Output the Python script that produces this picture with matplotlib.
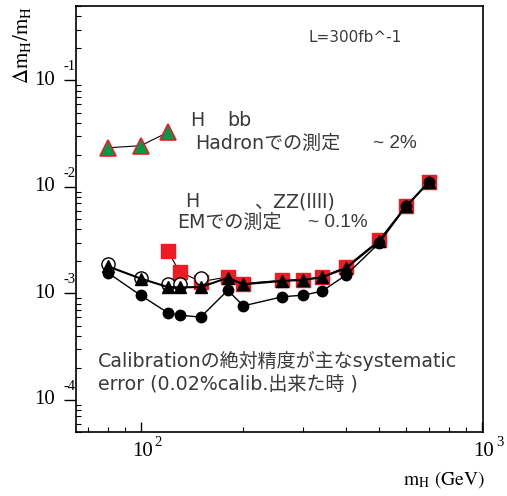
import matplotlib.pyplot as plt
from matplotlib.ticker import LogLocator, NullFormatter
from matplotlib.transforms import blended_transform_factory, ScaledTranslation

plt.rcParams['mathtext.fontset'] = 'stix'
plt.rcParams['font.family'] = ['DejaVu Sans', 'Noto Sans CJK JP']

# Higgs mass points (GeV) and relative mass precision dm/m
m_bb = [80, 100, 120]
dm_bb = [0.0233, 0.0244, 0.0325]

m_open = [80, 100, 120, 130, 150]
dm_open = [1.87e-3, 1.40e-3, 1.24e-3, 1.24e-3, 1.41e-3]

m_tri = [80, 100, 120, 130, 150, 180, 200, 260, 300, 340, 400, 500, 600, 700]
dm_tri = [1.80e-3, 1.38e-3, 1.15e-3, 1.14e-3, 1.15e-3, 1.40e-3, 1.22e-3,
          1.31e-3, 1.34e-3, 1.42e-3, 1.73e-3, 3.10e-3, 6.60e-3, 1.11e-2]

m_circ = [80, 100, 120, 130, 150, 180, 200, 260, 300, 340, 400, 500, 600, 700]
dm_circ = [1.57e-3, 9.6e-4, 6.6e-4, 6.25e-4, 6.0e-4, 1.07e-3, 7.65e-4,
           9.3e-4, 9.65e-4, 1.05e-3, 1.49e-3, 2.97e-3, 6.60e-3, 1.12e-2]

m_sq = [120, 130, 150, 180, 200, 260, 300, 340, 400, 500, 600, 700]
dm_sq = [2.51e-3, 1.60e-3, 1.29e-3, 1.43e-3, 1.24e-3, 1.33e-3, 1.35e-3,
         1.43e-3, 1.78e-3, 3.16e-3, 6.64e-3, 1.12e-2]

x_decades = [2, 3]
y_decades = [-1, -2, -3, -4]

RED = '#ed1c24'
GREEN = '#009a48'
TXT = '#3a3a3a'
SERIF = 'Liberation Serif'

fig = plt.figure(figsize=(5.07, 4.96), dpi=100)
ax = fig.add_axes([0.1493, 0.129, 0.8040, 0.8589])

ax.plot(m_bb, dm_bb, color='black', lw=0.8, marker='^', ms=11,
        mfc=GREEN, mec=RED, mew=1.2, zorder=3)
ax.plot(m_sq, dm_sq, color='black', lw=0.8, marker='s', ms=10,
        mfc=RED, mec=RED, zorder=2)
ax.plot(m_open, dm_open, ls='none', marker='o', ms=9.5,
        mfc='white', mec='black', mew=1.0, zorder=3)
ax.plot(m_circ, dm_circ, color='black', lw=1.0, marker='o', ms=7.5,
        mfc='black', mec='black', zorder=4)
ax.plot(m_tri, dm_tri, color='black', lw=1.5, marker='^', ms=8,
        mfc='black', mec='black', zorder=5)

ax.set_xscale('log')
ax.set_yscale('log')
ax.set_xlim(64.5, 1010)
ax.set_ylim(5e-5, 0.5)

ax.xaxis.set_major_locator(LogLocator(base=10))
ax.xaxis.set_minor_locator(LogLocator(base=10, subs=range(2, 10)))
ax.yaxis.set_major_locator(LogLocator(base=10))
ax.yaxis.set_minor_locator(LogLocator(base=10, subs=range(2, 10), numticks=20))
for axis in (ax.xaxis, ax.yaxis):
    axis.set_major_formatter(NullFormatter())
    axis.set_minor_formatter(NullFormatter())

ax.tick_params(axis='x', which='major', direction='in', length=7, width=1)
ax.tick_params(axis='x', which='minor', direction='in', length=3.5, width=0.8)
ax.tick_params(axis='y', which='major', direction='out', length=8.5, width=1)
ax.tick_params(axis='y', which='minor', direction='in', length=3.5, width=0.8)
for s in ax.spines.values():
    s.set_linewidth(1.2)

# power-of-ten labels: "10" with a raised exponent set apart
def shifted(base, dx, dy):
    return base + ScaledTranslation(dx / 100, dy / 100, fig.dpi_scale_trans)

ytr = blended_transform_factory(ax.transAxes, ax.transData)
for e in y_decades:
    ax.text(-0.0508, 10.0 ** e, '10', transform=ytr, ha='right', va='center',
            family=SERIF, fontsize=15, clip_on=False)
    ax.text(-0.031, 10.0 ** e, '%d' % e, transform=shifted(ytr, 0, 13.5),
            ha='left', va='center', family=SERIF, fontsize=10.5, clip_on=False)

xtr = blended_transform_factory(ax.transData, ax.transAxes)
for e in x_decades:
    ax.text(10.0 ** e, 0, '10', transform=shifted(xtr, 1.5, -19.5),
            ha='center', va='center', family=SERIF, fontsize=15, clip_on=False)
    ax.text(10.0 ** e, 0, '%d' % e, transform=shifted(xtr, 14, -10.5),
            ha='left', va='center', family=SERIF, fontsize=10.5, clip_on=False)

fig.text(22 / 507, 1 - 45 / 496, r'$\Delta\mathrm{m_H/m_H}$', rotation=90,
         ha='center', va='center', fontsize=15)
fig.text(485 / 507, 1 - 480 / 496, r'$\mathrm{m_H}$ (GeV)', ha='right',
         va='center', fontsize=14, family='STIXGeneral')

def note(x, y, s, size=13.7, family=None):
    kw = {'family': family} if family else {}
    fig.text(x / 507, 1 - y / 496, s, ha='left', va='center', fontsize=size,
             color=TXT, **kw)

note(308, 38, 'L=300fb^-1', size=11)
note(190, 121, 'H')
note(227, 121, 'bb')
note(195, 143.5, 'Hadronでの測定')
note(373, 143.5, '~ 2%', family='Liberation Sans')
note(185, 201.5, 'H')
note(254, 201.5, '、ZZ(llll)')
note(177, 222.5, 'EMでの測定')
note(308, 222.5, '~ 0.1%', family='Liberation Sans')
note(98, 361, 'Calibrationの絶対精度が主なsystematic')
note(98, 385, 'error (0.02%calib.出来た時 )')

fig.savefig('out.png', dpi=100)
